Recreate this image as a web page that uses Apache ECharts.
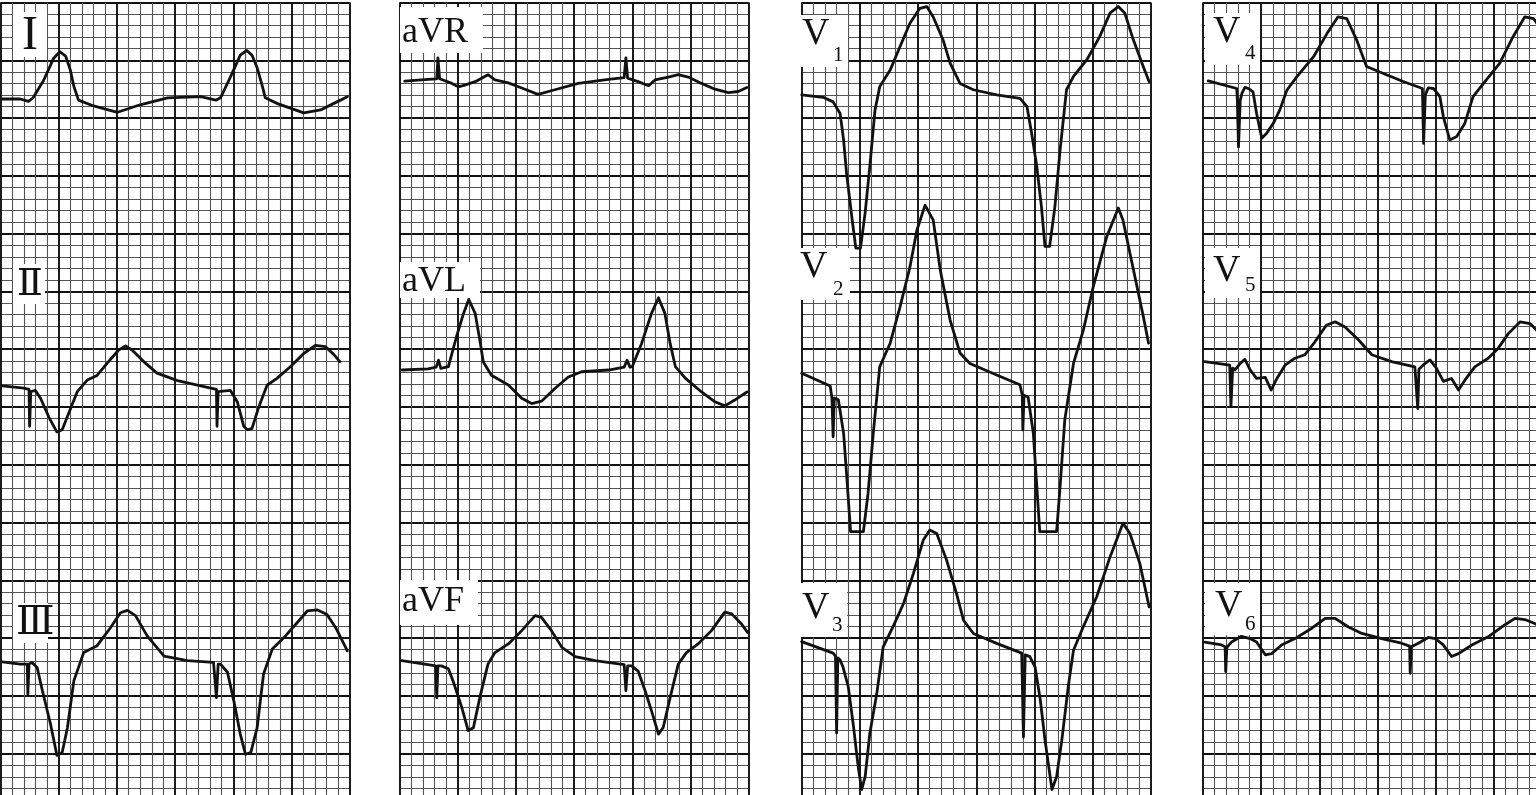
<!DOCTYPE html>
<html><head><meta charset="utf-8">
<script src="https://cdn.jsdelivr.net/npm/echarts@6/dist/echarts.min.js"></script>
<style>html,body{margin:0;padding:0;background:#fff;overflow:hidden}#c{width:1536px;height:795px}</style>
</head><body><div id="c"></div>
<script>
// ---- data: [time (mm of paper), amplitude (mm above lead baseline)] ----
const leadNames = ['I','Ⅱ','Ⅲ','aVR','aVL','aVF','V1','V2','V3','V4','V5','V6'];
const leadColumn = [0,0,0,1,1,1,2,2,2,3,3,3];
const leadBaseline = [61.65,36.73,12.95,63.3,38.2,12.95,62.0,37.77,14.4,62.86,38.72,14.66];

const leadI = [[0.15,0],[1.7,0],[2.4,-0.2],[2.8,0.1],[3.7,1.6],[4.55,3.5],[5.1,4.1],[5.6,3.7],[6.0,2.5],[6.3,1.1],[6.7,-0.1],[8.0,-0.6],[10.05,-1.15],[12.0,-0.5],[14.35,0.1],[17.2,0.2],[18.5,-0.1],[18.9,0.1],[19.75,1.9],[20.6,3.8],[21.15,4.2],[21.6,3.8],[22.05,2.7],[22.5,1.1],[22.75,0.1],[23.8,-0.4],[26.05,-1.2],[27.5,-0.95],[28.6,-0.4],[29.8,0.2]];
const leadII = [[0.15,0.1],[2.0,-0.1],[2.45,-0.2],[2.5,-3.4],[2.6,-0.4],[3.0,-0.3],[3.45,-1.0],[4.15,-2.6],[4.85,-3.9],[5.3,-3.7],[5.85,-2.3],[6.6,-0.4],[7.45,0.6],[8.3,1.0],[9.15,2.05],[10.15,3.2],[10.75,3.55],[11.3,3.2],[12.3,2.2],[13.45,1.2],[15.2,0.55],[17.2,0.1],[18.55,-0.2],[18.6,-3.4],[18.7,-0.4],[19.75,-0.3],[20.35,-1.3],[20.9,-3.4],[21.2,-3.7],[21.6,-3.6],[22.2,-1.7],[22.9,0.15],[23.75,0.75],[24.9,1.75],[26.05,2.9],[27.05,3.6],[27.9,3.5],[28.65,2.8],[29.15,2.2]];
const leadIII = [[0.15,0],[1.7,-0.2],[2.3,-0.2],[2.35,-2.8],[2.45,-0.2],[2.7,-0.05],[3.15,-0.5],[3.6,-2.5],[4.3,-5.4],[4.85,-8.1],[5.3,-7.85],[5.75,-5.7],[6.3,-1.65],[7.15,0.8],[8.3,1.4],[9.45,2.95],[10.3,4.25],[10.9,4.45],[11.6,4.0],[12.6,2.25],[14.05,0.5],[16.05,0.1],[18.3,-0.05],[18.55,-3.1],[18.7,-0.2],[18.9,-0.2],[19.5,-0.9],[20.05,-3.4],[20.6,-6.25],[21.05,-8.0],[21.5,-7.85],[22.05,-5.7],[22.6,-1.05],[23.35,1.1],[24.35,2.1],[25.5,3.4],[26.35,4.4],[27.2,4.5],[28.05,4.1],[28.8,2.95],[29.8,0.95]];
const leadAVR = [[0.45,-0.1],[2.45,0.05],[3.2,0.1],[3.3,1.9],[3.45,0.1],[3.6,0],[4.5,-0.3],[5.05,-0.6],[5.6,-0.45],[6.5,-0.15],[7.6,0.45],[8.2,0],[9.35,-0.25],[10.5,-0.7],[11.9,-1.25],[13.35,-0.85],[15.35,-0.3],[17.95,0.05],[19.3,0.2],[19.45,1.9],[19.6,0.15],[20.5,-0.15],[21.4,-0.5],[21.95,0],[23.1,0.25],[23.95,0.45],[24.8,0.25],[25.95,-0.3],[27.1,-0.8],[28.25,-1.1],[29.1,-1.0],[29.85,-0.65]];
const leadAVL = [[0.2,0],[2.45,0.1],[3.15,0.25],[3.35,0.85],[3.55,0.15],[4.2,0.3],[4.9,2.9],[5.5,4.9],[5.95,6.1],[6.5,4.9],[6.9,2.6],[7.2,0.7],[7.9,-0.45],[9.35,-1.3],[10.5,-2.45],[11.35,-2.9],[12.2,-2.7],[13.35,-1.6],[14.5,-0.6],[15.65,-0.15],[17.95,0],[19.3,0.25],[19.55,0.85],[19.8,0.25],[20.0,0.3],[20.8,2.3],[21.65,4.9],[22.25,6.25],[22.8,4.9],[23.25,2.3],[23.7,0.3],[24.55,-0.7],[25.95,-1.9],[27.1,-2.75],[27.95,-3.1],[28.8,-2.6],[29.85,-1.9]];
const leadAVF = [[0.2,0.1],[2.45,-0.25],[3.1,-0.35],[3.2,-3.1],[3.3,-0.35],[3.6,-0.35],[4.2,-0.6],[4.6,-1.65],[5.35,-3.95],[5.9,-5.95],[6.35,-5.7],[6.9,-3.1],[7.6,-0.2],[8.2,0.8],[9.35,1.55],[10.5,2.7],[11.65,4.0],[12.2,3.85],[13.05,2.7],[13.95,1.25],[15.1,0.45],[16.8,0.1],[19.3,-0.25],[19.45,-2.5],[19.6,-0.35],[19.95,-0.35],[20.5,-0.8],[21.1,-2.5],[21.65,-4.25],[22.25,-6.25],[22.65,-5.7],[23.25,-3.1],[23.95,-0.2],[24.65,0.8],[25.65,1.55],[26.8,2.7],[27.95,4.3],[28.55,4.15],[29.4,3.25],[29.9,2.55]];
const leadV1 = [[0,0],[1.85,-0.2],[2.7,-0.6],[3.3,-1.6],[3.6,-3.9],[3.85,-6.75],[4.3,-10.5],[4.65,-13.25],[5.05,-13.25],[5.45,-10.2],[5.85,-6.2],[6.3,-1.3],[6.7,0.7],[7.6,2.15],[8.45,4.2],[9.3,6.2],[10.15,7.5],[10.75,7.65],[11.3,6.75],[12.15,4.75],[12.75,2.75],[13.6,1.0],[14.75,0.45],[16.75,0],[18.75,-0.3],[19.35,-1.0],[19.75,-3.3],[20.2,-6.2],[20.6,-9.7],[20.9,-13.1],[21.3,-13.1],[21.75,-9.7],[22.2,-4.75],[22.75,0.45],[23.35,1.6],[24.5,3.05],[25.6,5.05],[26.5,7.1],[27.2,7.65],[27.75,7.1],[28.5,4.75],[29.35,2.45],[29.85,1.15]];
const leadV2 = [[0,0.15],[2.45,-0.95],[2.6,-2.0],[2.7,-5.35],[2.8,-2.0],[3.15,-2.15],[3.6,-5.05],[3.85,-8.5],[4.2,-13.55],[5.3,-13.55],[5.7,-10.25],[6.15,-5.05],[6.7,0.7],[7.6,2.75],[8.45,5.9],[9.3,9.35],[9.9,12.55],[10.6,14.7],[11.3,13.4],[11.9,9.1],[12.75,4.75],[13.6,1.9],[14.45,1.0],[16.75,0],[18.75,-0.85],[18.95,-1.75],[19.0,-4.75],[19.1,-1.75],[19.45,-1.9],[19.9,-5.05],[20.2,-9.65],[20.45,-13.55],[21.9,-13.55],[22.2,-9.65],[22.6,-3.9],[23.35,1.0],[24.2,3.9],[25.05,7.65],[26.2,11.95],[27.2,14.45],[27.6,13.4],[28.5,9.1],[29.35,5.05],[29.8,2.75]];
const leadV3 = [[0,0.3],[2.7,-0.7],[2.9,-0.95],[3.0,-7.6],[3.1,-1.1],[3.3,-1.3],[3.55,-1.9],[4.0,-3.6],[4.45,-7.05],[4.85,-10.5],[5.15,-12.5],[5.45,-11.4],[5.85,-7.65],[6.45,-4.2],[7.0,-0.15],[7.85,1.6],[8.75,3.6],[9.6,6.2],[10.45,9.1],[11.0,9.95],[11.6,9.65],[12.45,7.35],[13.3,4.45],[13.9,2.15],[14.75,1.0],[16.75,0.15],[18.9,-0.7],[19.05,-7.95],[19.2,-0.85],[19.6,-1.0],[20.05,-1.9],[20.5,-4.75],[20.9,-8.2],[21.5,-12.5],[21.9,-11.4],[22.35,-8.2],[22.9,-3.6],[23.35,-0.45],[24.2,1.6],[25.35,4.2],[26.5,7.65],[27.6,10.55],[28.2,9.65],[29.05,7.05],[29.85,3.3]];
const leadV4 = [[0.45,0.35],[2.9,-0.3],[2.95,-1.3],[3.05,-5.35],[3.2,-1.3],[3.35,-0.7],[3.6,-0.2],[3.9,-0.3],[4.3,-0.6],[4.6,-2.45],[5.05,-4.6],[5.45,-4.2],[6.05,-3.3],[6.6,-2.15],[7.2,-0.45],[8.05,0.7],[9.5,2.45],[10.65,4.45],[11.6,5.9],[12.35,5.75],[13.2,3.9],[14.05,1.6],[15.5,1.0],[17.2,0.3],[18.85,-0.3],[18.95,-5.05],[19.1,-0.85],[19.35,-0.25],[19.8,-0.3],[20.35,-1.0],[20.65,-2.75],[21.2,-4.75],[21.8,-4.45],[22.5,-3.3],[23.2,-1.0],[24.1,0.15],[25.5,1.9],[26.65,4.2],[27.65,5.9],[28.4,5.75],[29.4,4.3]];
const leadV5 = [[0.15,0.2],[2.3,-0.1],[2.4,-3.7],[2.55,-0.35],[2.75,-0.5],[3.2,0.05],[3.6,0.4],[4.05,-0.5],[4.6,-1.25],[5.35,-1.15],[5.85,-2.25],[6.35,-1.25],[7.05,-0.1],[7.9,0.5],[8.75,0.8],[9.6,1.9],[10.6,3.35],[11.35,3.65],[12.2,3.2],[13.35,2.1],[14.5,0.8],[16.2,0.2],[18.2,-0.25],[18.35,-0.35],[18.45,-3.85],[18.55,-0.45],[18.9,-0.1],[19.5,0.35],[20.05,-0.35],[20.65,-1.5],[21.35,-1.25],[21.95,-2.25],[22.5,-1.4],[23.35,-0.25],[24.5,0.5],[25.35,1.35],[26.25,2.65],[27.25,3.65],[28.1,3.5],[28.5,3.1],[29.4,2.1]];
const leadV6 = [[0.15,0],[1.6,-0.25],[1.9,-0.4],[1.95,-2.55],[2.05,-0.45],[2.45,0],[3.3,0.5],[4.05,0.3],[4.6,0],[5.35,-1.1],[5.9,-1.0],[6.75,-0.25],[7.9,0.3],[9.35,1.2],[10.5,2.05],[11.35,2.05],[12.5,1.3],[13.65,0.75],[15.35,0.3],[17.05,-0.1],[17.75,-0.35],[17.8,-2.7],[17.9,-0.4],[18.5,-0.1],[19.35,0.4],[19.95,0.3],[20.65,-0.25],[21.35,-1.25],[21.95,-1.0],[23.1,-0.25],[24.5,0.45],[25.65,1.3],[26.8,2.05],[27.65,1.95],[28.5,1.6],[29.65,1.0]];
const leads = [leadI,leadII,leadIII,leadAVR,leadAVL,leadAVF,leadV1,leadV2,leadV3,leadV4,leadV5,leadV6];

// paper: 30 mm wide, 70 mm tall per column (grid lines every 1 mm, bold every 5 mm)
const paperX = [0, 30];
const paperY = [0, 70];

// ---- layout ----
const mmX = 11.64, mmY = 11.557;
const colLeft = [0.5, 399.5, 801.7, 1203];
const chart = echarts.init(document.getElementById('c'), null, {renderer: 'canvas'});

const grids = colLeft.map(l => ({left: l, top: 2.5, width: (paperX[1]-paperX[0]) * mmX, height: (paperY[1]-paperY[0]) * mmY,
  show: false, containLabel: false, outerBoundsMode: 'none'}));
const thin = {show: true, lineStyle: {color: '#555', width: 1.1}};
const thick = {show: true, lineStyle: {color: '#111', width: 1.9}};
const axisCommon = {type: 'value', interval: 5, axisLine: {show: false}, axisTick: {show: false}, axisLabel: {show: false},
  splitLine: thick, minorTick: {show: false, splitNumber: 5}, minorSplitLine: thin, z: 0};
const xAxes = colLeft.map((_, i) => Object.assign({}, axisCommon, {gridIndex: i, min: paperX[0], max: paperX[1]}));
const yAxes = colLeft.map((_, i) => Object.assign({}, axisCommon, {gridIndex: i, min: paperY[0], max: paperY[1]}));

const series = leads.map((pts, k) => ({
  type: 'line', name: leadNames[k], xAxisIndex: leadColumn[k], yAxisIndex: leadColumn[k],
  data: pts.map(p => [p[0], leadBaseline[k] + p[1]]),
  symbol: 'none', smooth: false, silent: true, animation: false, z: 5,
  lineStyle: {color: '#111', width: 2.8, join: 'round', cap: 'round'}
}));

// ---- lead labels (white patches + serif text) ----
const serif = '"Liberation Serif", "DejaVu Serif", serif';
const boxes = [
  [13,12,34,45],[13,264,32,40],[13,603,35,40],
  [400,7,83,46],[400,262,80,36],[400,580,78,45],
  [800,15,48,52],[796,248,54,52],[798,583,49,54],
  [1205,13,55,52],[1205,248,55,50],[1205,583,55,52]
];
const texts = [
  ['I',22,36,48],['Ⅱ',17,285,38],['Ⅲ',16,623,40],
  ['aVR',402,33,36],['aVL',402,281.5,36],['aVF',402,601.5,36],
  ['V',802,34.5,38],['1',833,55.5,21],
  ['V',800,267.5,38],['2',833,289,21],
  ['V',802,608,38],['3',832,625,21],
  ['V',1213,32.5,38],['4',1245,53.5,21],
  ['V',1213,271,38],['5',1245,285,21],
  ['V',1215,606,38],['6',1245,624.5,21]
];
const graphic = [];
boxes.forEach(b => graphic.push({type: 'rect', shape: {x: b[0], y: b[1], width: b[2], height: b[3]}, style: {fill: '#fff'}, z: 50, silent: true}));
texts.forEach(t => graphic.push({type: 'text', x: t[1], y: t[2], z: 60, silent: true,
  style: {text: t[0], font: t[3] + 'px ' + serif, fill: '#111', align: 'left', verticalAlign: 'middle', textAlign: 'left', textVerticalAlign: 'middle'}}));

chart.setOption({
  animation: false,
  backgroundColor: '#fff',
  grid: grids,
  xAxis: xAxes,
  yAxis: yAxes,
  series: series,
  graphic: {elements: graphic}
});
</script>
</body></html>
